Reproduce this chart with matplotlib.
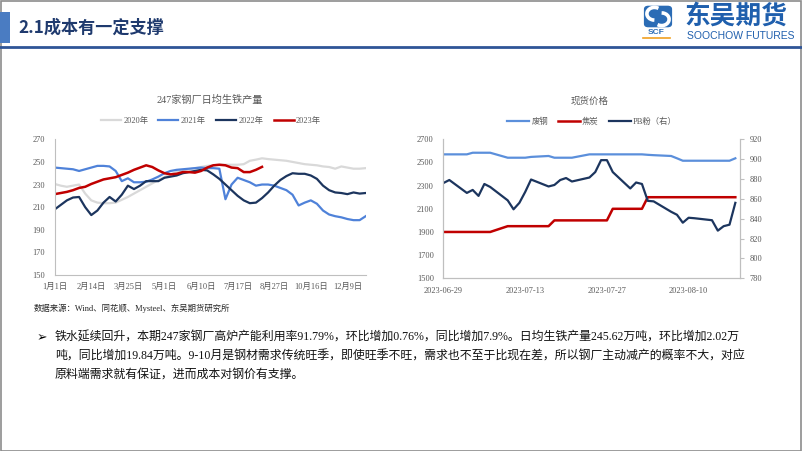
import matplotlib
matplotlib.use('Agg')
import matplotlib.pyplot as plt
import matplotlib.dates as mdates
import pandas as pd
from matplotlib.patches import Rectangle, FancyBboxPatch, Arc
from matplotlib.lines import Line2D

plt.rcParams['font.family'] = ['Liberation Serif', 'Noto Sans CJK SC', 'DejaVu Sans']

# ---- left chart: 247 mills daily hot metal output (weekly points) ----
week_labels = ['1月1日', '2月14日', '3月25日', '5月1日', '6月10日',
               '7月17日', '8月27日', '10月16日', '12月9日']
y2020 = [230.5, 229, 228, 229, 230, 222, 216, 214, 213.5, 213.5, 214, 216.5, 219,
         222, 225, 228, 231, 234, 236.5, 239, 241, 242.5, 243.5, 244.5, 245.5, 246.5,
         247, 247.5, 247.5, 247.5, 247.5, 248, 251, 252, 253.2, 252.5, 252, 251.5,
         251, 250, 249, 248, 247.5, 247, 246, 245.5, 244, 246, 245, 244, 244, 244.5]
y2021 = [245, 244.5, 244, 243.5, 242, 243.5, 245, 246.5, 246.5, 246, 242, 233,
         235.5, 232, 232, 232.5, 234.5, 237, 240, 242, 243, 243.5, 244, 244.5, 245,
         244.5, 244.5, 244, 217, 230, 236, 234, 232, 229, 230, 230, 229, 227, 225,
         221, 211.5, 214, 216, 213, 207, 203.5, 202, 201, 199.5, 198.5, 198.5, 202]
y2022 = [208, 212, 216, 218.5, 219, 210, 203, 207, 214, 219, 215, 221, 229, 226,
         229, 233, 233, 233, 236, 237, 238, 240, 241, 242, 243, 242.5, 239, 235, 230,
         225, 220, 216, 213.5, 214, 218, 223, 229, 234, 237.5, 240, 239.5, 239.5, 238,
         235, 229, 225, 223, 222.5, 221.5, 223, 222, 222.5]
y2023 = [221.5, 222.5, 223.5, 225, 227, 228, 230.5, 232.5, 234.5, 235.5, 236.5,
         238.5, 240.5, 243, 245, 247, 245.5, 242.5, 240, 239, 239.5, 241, 241, 240.5,
         242, 245, 247, 247.5, 247, 245, 244.5, 241, 241, 243, 245.62]

# ---- right chart: spot prices (business days) ----
dates = pd.bdate_range('2023-06-29', '2023-08-18')
scrap = [2570, 2570, 2570, 2584, 2584, 2584, 2584, 2541, 2541, 2541, 2541, 2548,
         2556, 2541, 2541, 2541, 2541, 2570, 2570, 2570, 2570, 2570, 2570, 2570,
         2570, 2566, 2563, 2556, 2536, 2515, 2515, 2515, 2515, 2515, 2515, 2515, 2536]
coke = [1900] * 7 + [1950] * 6 + [2000] * 8 + [2100] * 4 + [2200] * 12
pb_fines = [876, 879, 866, 869, 863, 875, 872, 858.5, 849.5, 856, 867, 879.5, 872.5,
            874, 879, 881, 877.5, 881.5, 887, 899, 899, 887, 870.5, 876.5, 875, 858,
            857.5, 847, 844, 836, 841, 840.5, 838.5, 828, 832.5, 834, 856]

W, H = 802, 451
fig = plt.figure(figsize=(W / 100, H / 100), dpi=100)


def box(l, t, r, b):
    return [l / W, 1 - b / H, (r - l) / W, (b - t) / H]


def fpos(x, y):
    return x / W, 1 - y / H


grey_txt = '#595959'
axis_col = '#BFBFBF'

# slide frame and header
fig.patches.append(Rectangle((0.001, 0.001), 0.998, 0.997, transform=fig.transFigure,
                             fill=False, edgecolor='#8C8C8C', lw=1.2))
fig.patches.append(Rectangle(fpos(0, 43), 10 / W, 31 / H, transform=fig.transFigure,
                             color='#4A7CC2', lw=0))
fig.lines.append(Line2D([0, 1], [1 - 46.5 / H] * 2, transform=fig.transFigure,
                        color='#2F5597', lw=2))
fig.text(*fpos(18, 28), '2.1成本有一定支撑', fontsize=12.3, fontweight='bold',
         color='#1F3A6E', va='center', ha='left', family=['Noto Sans CJK SC'])

# logo
lax = fig.add_axes(box(643, 5, 673, 28))
lax.set_xlim(0, 1)
lax.set_ylim(0, 1)
lax.axis('off')
lax.add_patch(FancyBboxPatch((0.03, 0.03), 0.94, 0.94, boxstyle='round,pad=0,rounding_size=0.15',
                             color='#2B6CB5', lw=0))
lax.add_patch(Arc((0.38, 0.62), 0.5, 0.55, theta1=60, theta2=270, color='white', lw=2.6))
lax.add_patch(Arc((0.62, 0.38), 0.5, 0.55, theta1=240, theta2=450, color='white', lw=2.6))
fig.text(*fpos(656, 32), 'SCF', fontsize=6, fontweight='bold', color='#2B6CB5',
         ha='center', va='center', family=['Liberation Sans'])
fig.lines.append(Line2D([643 / W, 670 / W], [1 - 37.5 / H] * 2, transform=fig.transFigure,
                        color='#F0A020', lw=1.2))
fig.text(*fpos(684, 16), '东吴期货', fontsize=18.5, fontweight='bold', color='#1F5FAD',
         ha='left', va='center', family=['Noto Sans CJK SC'])
fig.text(*fpos(687, 36), 'SOOCHOW FUTURES', fontsize=7.5, color='#1F5FAD',
         ha='left', va='center', family=['Liberation Sans'])

# ---- left chart ----
ax1 = fig.add_axes(box(54.7, 139.3, 365.7, 275))
x = range(len(y2020))
ax1.plot(x, y2020, color='#D9D9D9', lw=1.6, label='2020年')
ax1.plot(x, y2021, color='#4F82D9', lw=1.6, label='2021年')
ax1.plot(range(len(y2022)), y2022, color='#1C355E', lw=1.6, label='2022年')
ax1.plot(range(len(y2023)), y2023, color='#C00000', lw=1.8, label='2023年')
ax1.set_xlim(0, 51)
ax1.set_ylim(150, 270)
ax1.set_yticks(range(150, 271, 20))
ax1.set_xticks(range(0, 49, 6))
ax1.set_xticklabels(week_labels)
for s in ['top', 'right']:
    ax1.spines[s].set_visible(False)
for s in ['left', 'bottom']:
    ax1.spines[s].set_color(axis_col)
    ax1.spines[s].set_linewidth(0.8)
ax1.tick_params(length=0, labelsize=6, labelcolor=grey_txt, pad=7)
ax1.tick_params(axis='x', pad=6)
fig.text(*fpos(210, 100), '247家钢厂日均生铁产量', fontsize=7.3, color=grey_txt,
         ha='center', va='center')
fig.legend(*ax1.get_legend_handles_labels(), loc='center', bbox_to_anchor=fpos(211, 121),
           ncol=4, frameon=False, fontsize=6, handlelength=2.4, handletextpad=0.3,
           columnspacing=1.2, labelcolor=grey_txt)

# ---- right chart ----
ax2 = fig.add_axes(box(443.5, 139.3, 740, 278.3))
ax3 = ax2.twinx()
l1, = ax2.plot(dates, scrap, color='#5B8FDB', lw=1.6, label='废钢')
l2, = ax2.plot(dates, coke, color='#C00000', lw=1.8, label='焦炭')
l3, = ax3.plot(dates, pb_fines, color='#1C355E', lw=1.6, label='PB粉（右）')
d0 = mdates.date2num(pd.Timestamp('2023-06-29'))
ax2.set_xlim(d0, d0 + 50.8)
ax2.set_ylim(1500, 2700)
ax2.set_yticks(range(1500, 2701, 200))
ax3.set_ylim(780, 920)
ax3.set_yticks(range(780, 921, 20))
ax2.set_xticks(pd.to_datetime(['2023-06-29', '2023-07-13', '2023-07-27', '2023-08-10']))
ax2.xaxis.set_major_formatter(mdates.DateFormatter('%Y-%m-%d'))
for a in (ax2, ax3):
    a.spines['top'].set_visible(False)
    for s in ['left', 'bottom', 'right']:
        a.spines[s].set_color(axis_col)
        a.spines[s].set_linewidth(0.8)
    a.tick_params(labelsize=6, labelcolor=grey_txt, color=axis_col, length=3)
ax2.tick_params(axis='y', length=0, pad=7)
ax2.tick_params(axis='x', length=0, pad=6)
ax3.tick_params(axis='y', pad=4)
fig.text(*fpos(590, 101), '现货价格', fontsize=6.8, color=grey_txt,
         ha='center', va='center')
fig.legend([l1, l2, l3], ['废钢', '焦炭', 'PB粉（右）'], loc='center',
           bbox_to_anchor=fpos(592, 122), ncol=3, frameon=False, fontsize=6,
           handlelength=2.6, handletextpad=0.3, columnspacing=1.2, labelcolor=grey_txt)

# source and commentary
fig.text(*fpos(34, 308), '数据来源：Wind、同花顺、Mysteel、东吴期货研究所', fontsize=6,
         color='#262626', ha='left', va='center')
fig.text(*fpos(37, 338), '➢', fontsize=9, ha='left', va='center', family=['DejaVu Sans'])
body = ['铁水延续回升，本期247家钢厂高炉产能利用率91.79%，环比增加0.76%，同比增加7.9%。日均生铁产量245.62万吨，环比增加2.02万',
        '吨，同比增加19.84万吨。9-10月是钢材需求传统旺季，即使旺季不旺，需求也不至于比现在差，所以钢厂主动减产的概率不大，对应',
        '原料端需求就有保证，进而成本对钢价有支撑。']
for i, line in enumerate(body):
    fig.text(*fpos(55, 338 + i * 18.5), line, fontsize=8.6, color='#111111',
             ha='left', va='center')

fig.savefig('out.png', dpi=100)
